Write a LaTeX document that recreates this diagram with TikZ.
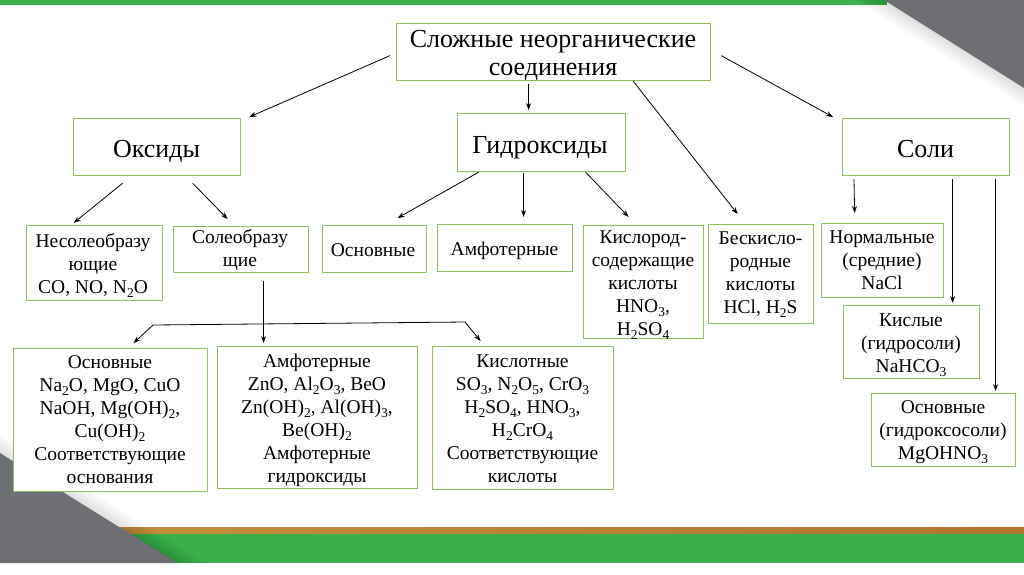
\documentclass[tikz,border=0pt]{standalone}
\usepackage{fontspec}
\setmainfont{Liberation Serif}
\usetikzlibrary{arrows.meta,calc}
\definecolor{boxgreen}{RGB}{140,190,100}
\definecolor{bargreen}{RGB}{57,176,74}
\definecolor{cornergray}{RGB}{110,111,114}
\definecolor{goldA}{RGB}{196,146,58}
\definecolor{goldB}{RGB}{246,202,138}
\definecolor{goldC}{RGB}{176,118,48}
\tikzset{
  box/.style={draw=boxgreen, line width=1.2pt, fill=white, inner sep=0pt, anchor=north west},
  tl/.style={font=\fontsize{26}{28}\selectfont, align=center, anchor=base, inner sep=0pt},
  ts/.style={font=\fontsize{19.5}{23}\selectfont, align=center, anchor=base, inner sep=0pt},
  arr/.style={-{Stealth[length=7pt,width=5pt]}, line width=0.8pt},
  arrboth/.style={{Stealth[length=7pt,width=5pt]}-{Stealth[length=7pt,width=5pt]}, line width=0.8pt},
}
\newcommand\mybox[5]{\node[box,minimum width=#4pt,minimum height=#5pt] (#1) at (#2,#3) {};}
\newcommand\chsub[1]{\raisebox{-0.24em}{\fontsize{13.5}{13.5}\selectfont #1}}
\begin{document}
\begin{tikzpicture}[x=1pt,y=-1pt]
\useasboundingbox (0,0) rectangle (1024,574);
% background decoration
\fill[white] (0,0) rectangle (1024,574);
\fill[bargreen] (0,0) rectangle (887,5);
\shade[left color=goldA, middle color=goldB, right color=goldC] (0,527) rectangle (1024,534);
\fill[bargreen] (0,534) rectangle (1024,563);
% soft shadows along the grey corners
\foreach \s in {1,...,16}{
  \fill[black, opacity=0.009] (884-1.88*\s,0) -- (1024,0) -- (1024,88+1.18*\s) -- cycle;
  \fill[black, opacity=0.009] (0,453-1.18*\s) -- (177+1.9*\s,563) -- (0,563) -- cycle;
}
\fill[cornergray] (884,0) -- (1024,0) -- (1024,88) -- cycle;
\fill[cornergray] (0,453) -- (177,563) -- (0,563) -- cycle;

% boxes
\mybox{top}{396}{23}{314}{57}
\mybox{oks}{73}{118}{167}{57}
\mybox{gid}{457}{113}{168}{58}
\mybox{soli}{842}{118}{167}{57}
\mybox{nes}{26}{225}{136}{75}
\mybox{sol}{173}{226}{135}{46}
\mybox{osnG}{322}{225}{104}{47}
\mybox{amfG}{437}{224}{135}{47}
\mybox{kisl}{583}{225}{120}{113}
\mybox{besk}{708}{224}{105}{99}
\mybox{norm}{821}{223}{122}{74}
\mybox{kisly}{843}{305}{136}{73}
\mybox{osnsol}{871}{393}{144}{73}
\mybox{osnO}{13}{348}{194}{143}
\mybox{amfO}{217}{346}{200}{142}
\mybox{kisO}{432}{346}{181}{143}

% texts (anchor base = baseline of the last line)
\node[tl] (t-top) at (553,75) {Сложные неорганические\\соединения};
\node[tl] (t-oks) at (156.5,157) {Оксиды};
\node[tl] (t-gid) at (540,153) {Гидроксиды};
\node[tl] (t-soli) at (925.5,157) {Соли};
\node[ts] (t-nes) at (93,293) {Несолеобразу\\ющие\\CO, NO, N\chsub{2}O};
\node[ts] (t-sol) at (240,266) {Солеобразу\\щие};
\node[ts] (t-osnG) at (373,256) {Основные};
\node[ts] (t-amfG) at (504.5,255) {Амфотерные};
\node[ts] (t-kisl) at (643,335) {Кислород-\\содержащие\\кислоты\\HNO\chsub{3},\\H\chsub{2}SO\chsub{4}};
\node[ts] (t-besk) at (760.5,313) {Бескисло-\\родные\\кислоты\\HCl, H\chsub{2}S};
\node[ts] (t-norm) at (882,289) {Нормальные\\(средние)\\NaCl};
\node[ts] (t-kisly) at (911,372) {Кислые\\(гидросоли)\\NaHCO\chsub{3}};
\node[ts] (t-osnsol) at (943,459) {Основные\\(гидроксосоли)\\MgOHNO\chsub{3}};
\node[ts] (t-osnO) at (110,483) {Основные\\Na\chsub{2}O, MgO, CuO\\NaOH, Mg(OH)\chsub{2},\\Cu(OH)\chsub{2}\\Соответствующие\\основания};
\node[ts] (t-amfO) at (317,482) {Амфотерные\\ZnO, Al\chsub{2}O\chsub{3}, BeO\\Zn(OH)\chsub{2}, Al(OH)\chsub{3},\\Be(OH)\chsub{2}\\Амфотерные\\гидроксиды};
\node[ts] (t-kisO) at (522.5,482) {Кислотные\\SO\chsub{3}, N\chsub{2}O\chsub{5}, CrO\chsub{3}\\H\chsub{2}SO\chsub{4}, HNO\chsub{3},\\H\chsub{2}CrO\chsub{4}\\Соответствующие\\кислоты};

% connectors
\draw[arr] ($(top.west)+(-6,3.5)$) -- ($(oks.north east)+(8,-1)$);
\draw[arr] ($(top.south)+(-25,3)$) -- ($(gid.north)+(-13,-3)$);
\draw[arr] ($(top.south east)+(-78,0)$) -- ($(besk.north)+(-23.5,-10)$);
\draw[arr] ($(top.east)+(10,3.5)$) -- ($(soli.north west)+(-9,-1)$);
\draw[arr] ($(oks.south)+(-34.5,7)$) -- ($(nes.north)+(-21,-2)$);
\draw[arr] ($(oks.south)+(35.5,7)$) -- ($(sol.north)+(-13.5,-7)$);
\draw[arr] ($(gid.south)+(-63,0)$) -- ($(osnG.north)+(23,-7)$);
\draw[arr] ($(gid.south)+(-18,1)$) -- ($(amfG.north)+(18.5,-7)$);
\draw[arr] ($(gid.south)+(44,0)$) -- ($(kisl.north)+(-15,-8)$);
\draw[arr] ($(soli.south west)+(12,3)$) -- ($(norm.north)+(-28,-10)$);
\draw[arr] ($(soli.south)+(26.5,3)$) -- ($(kisly.north)+(41,-2)$);
\draw[arr] ($(soli.south)+(69.5,3)$) -- ($(osnsol.north)+(52,-2)$);
\draw[arr] ($(sol.south)+(22.5,8)$) -- ($(amfO.north)+(-54,-3)$);
\coordinate (bl) at (153,325);
\coordinate (br) at (465,322);
\draw[arrboth] ($(osnO.north)+(23,-5)$) -- (bl) -- (br) -- ($(kisO.north)+(-42.5,-5)$);
\end{tikzpicture}
\end{document}
